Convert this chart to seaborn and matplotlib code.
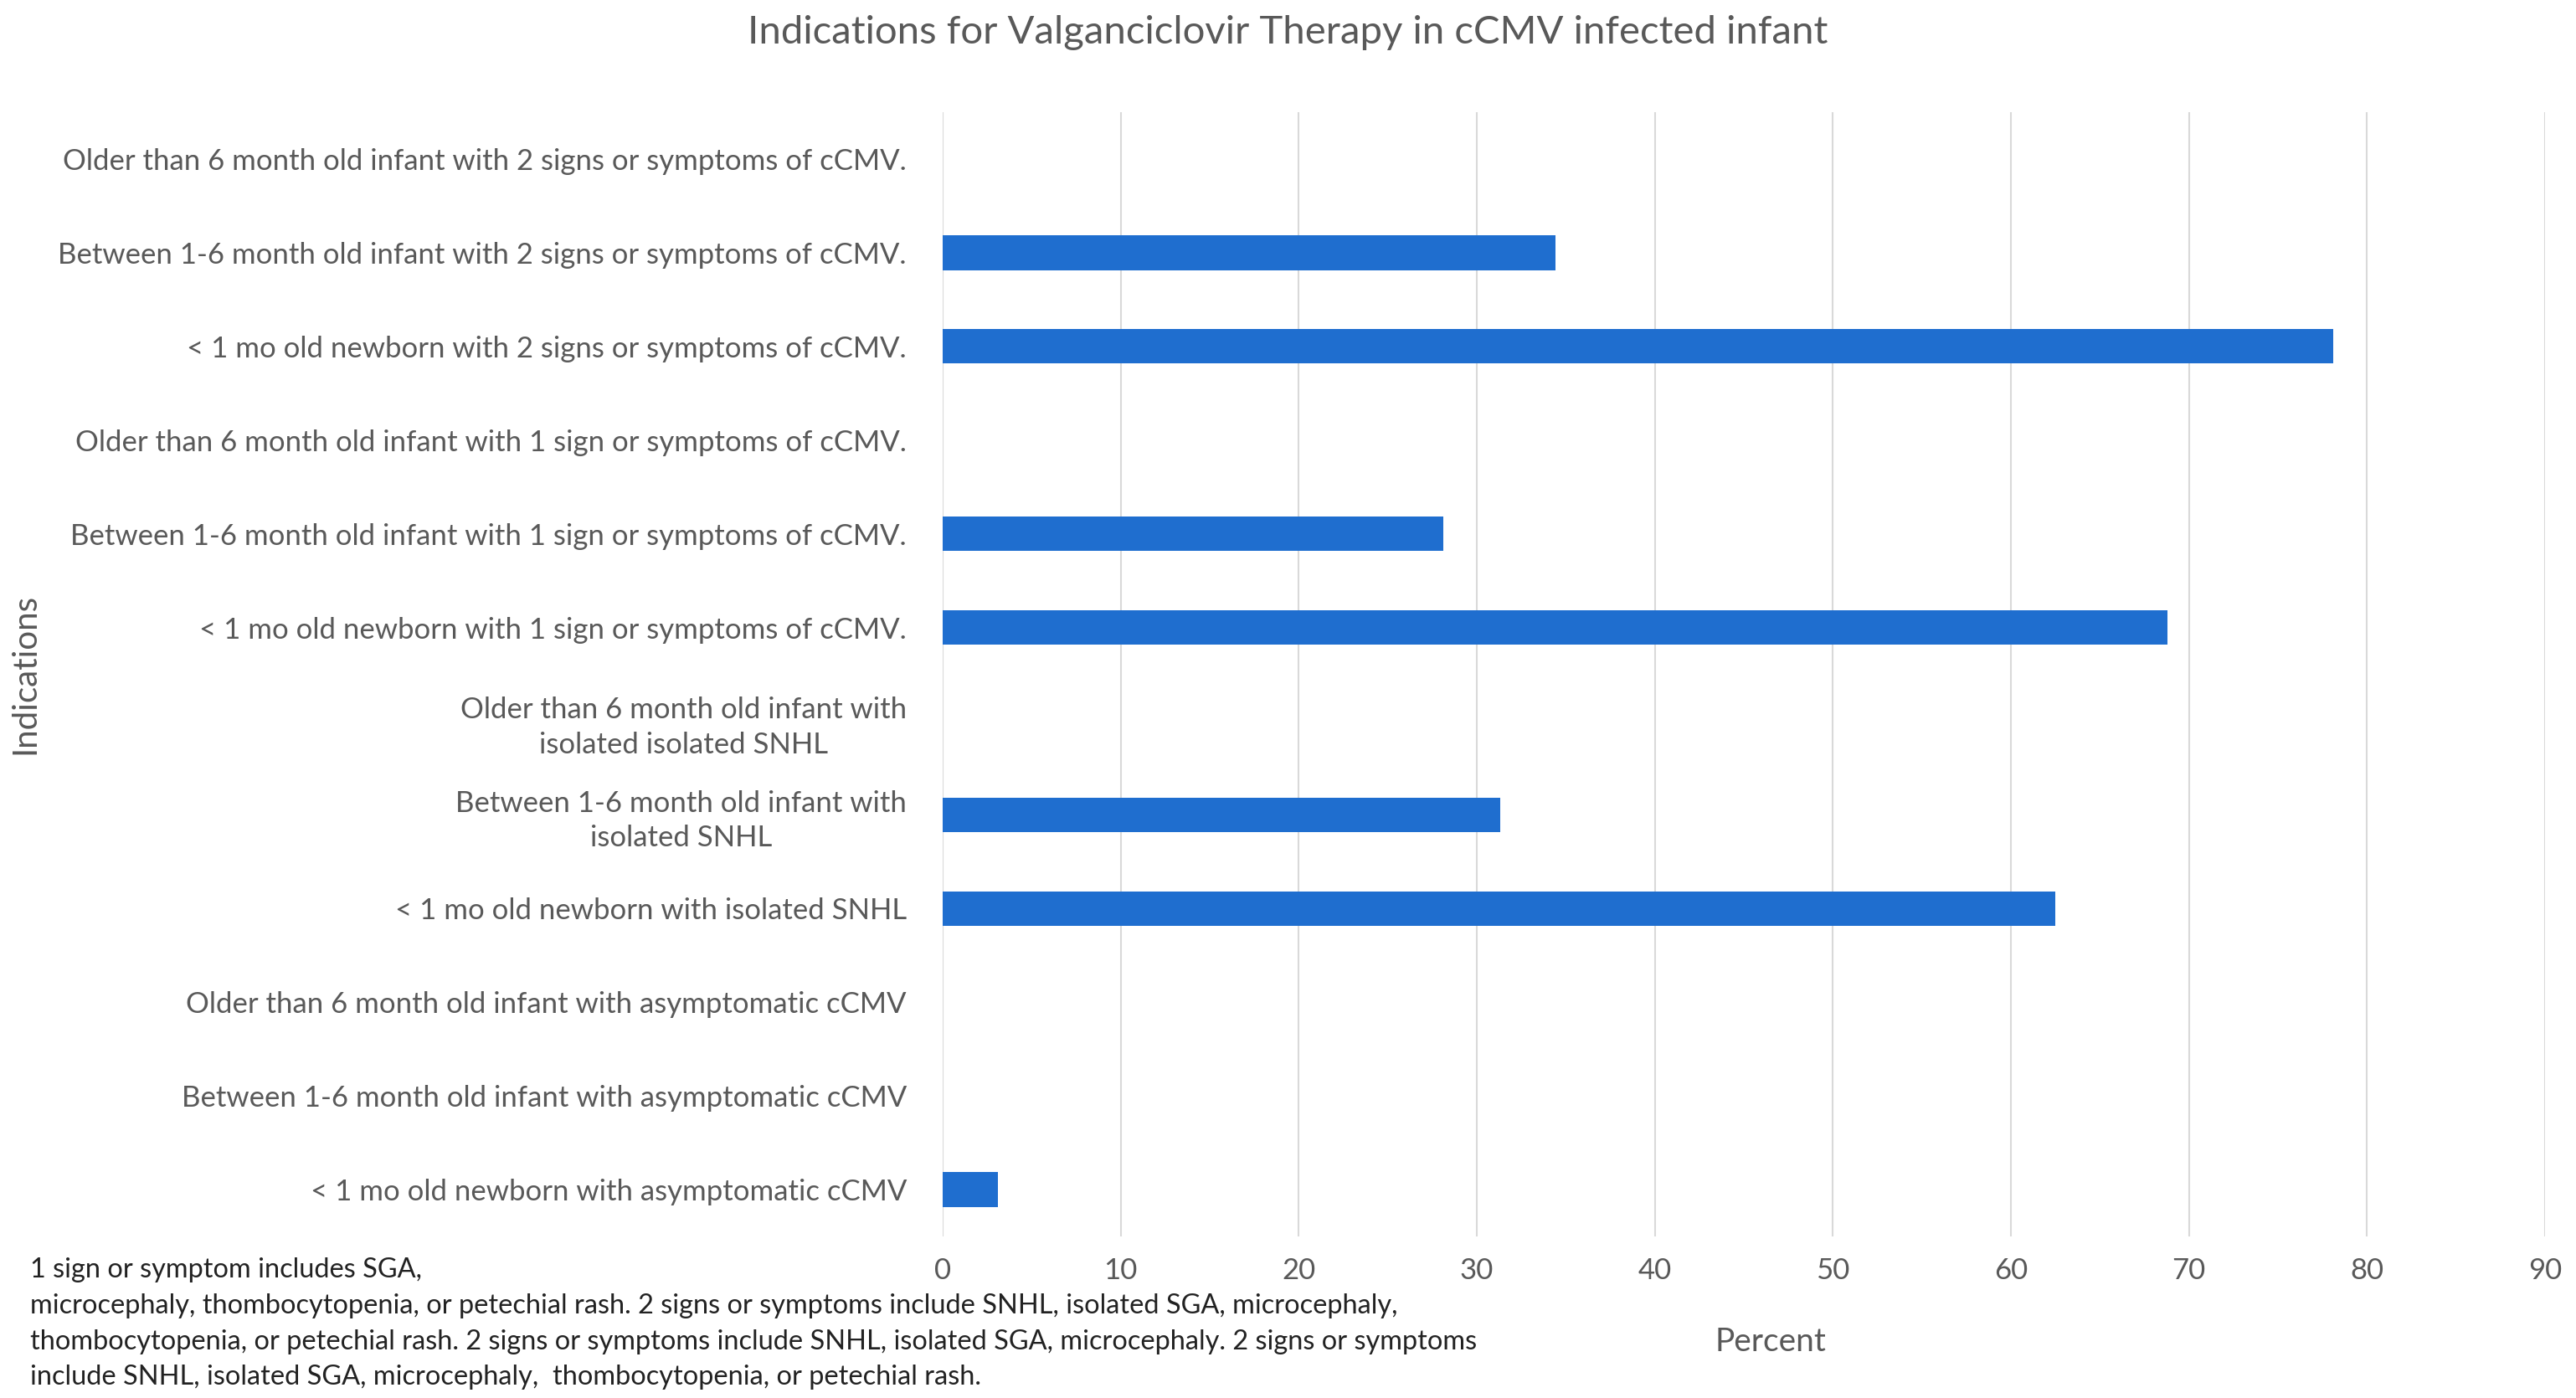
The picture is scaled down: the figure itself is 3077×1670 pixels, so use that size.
import matplotlib
matplotlib.use("Agg")
import matplotlib.pyplot as plt
import seaborn as sns
import pandas as pd

indications = [
    "Older than 6 month old infant with 2 signs or symptoms of cCMV.",
    "Between 1-6 month old infant with 2 signs or symptoms of cCMV.",
    "< 1 mo old newborn with 2 signs or symptoms of cCMV.",
    "Older than 6 month old infant with 1 sign or symptoms of cCMV.",
    "Between 1-6 month old infant with 1 sign or symptoms of cCMV.",
    "< 1 mo old newborn with 1 sign or symptoms of cCMV.",
    "Older than 6 month old infant with\nisolated isolated SNHL",
    "Between 1-6 month old infant with\nisolated SNHL",
    "< 1 mo old newborn with isolated SNHL",
    "Older than 6 month old infant with asymptomatic cCMV",
    "Between 1-6 month old infant with asymptomatic cCMV",
    "< 1 mo old newborn with asymptomatic cCMV",
]
percent = [0, 34.4, 78.1, 0, 28.1, 68.8, 0, 31.3, 62.5, 0, 0, 3.1]
x_ticks = [0, 10, 20, 30, 40, 50, 60, 70, 80, 90]

title = "Indications for Valganciclovir Therapy in cCMV infected infant"
footnote_lines = [
    "1 sign or symptom includes SGA,",
    "microcephaly, thombocytopenia, or petechial rash. 2 signs or symptoms include SNHL, isolated SGA, microcephaly,",
    "thombocytopenia, or petechial rash. 2 signs or symptoms include SNHL, isolated SGA, microcephaly. 2 signs or symptoms",
    "include SNHL, isolated SGA, microcephaly,  thombocytopenia, or petechial rash.",
]

df = pd.DataFrame({"Indication": indications, "Percent": percent})

sns.set_theme(style="white")
plt.rcParams["font.family"] = ["Lato", "DejaVu Sans"]
TXT = "#595959"

W, H = 3077, 1670
fig = plt.figure(figsize=(W / 100, H / 100), dpi=100)
ax = fig.add_axes([1126 / W, 1 - 1477 / H, (3040 - 1126) / W, (1477 - 134) / H])

sns.barplot(data=df, y="Indication", x="Percent", orient="h", color="#1f6ecf",
            saturation=1, width=0.37, linewidth=0, ax=ax)

ax.set_xlim(0, 90)
ax.set_ylim(11.5, -0.5)
ax.set_xticks(x_ticks)
ax.set_xticklabels([str(t) for t in x_ticks])
ax.grid(axis="x", color="#d9d9d9", linewidth=1.5)
ax.set_axisbelow(True)
for s in ax.spines.values():
    s.set_visible(False)
ax.tick_params(axis="both", length=0, labelsize=25, labelcolor=TXT)
ax.tick_params(axis="y", pad=31)
ax.tick_params(axis="x", pad=18)
for lab in ax.get_yticklabels():
    lab.set_multialignment("center")
    lab.set_linespacing(1.35)
ax.set_xlabel("")
ax.set_ylabel("")

fig.text(0.5, 1 - 39 / H, title, ha="center", va="center", fontsize=34, color=TXT)
fig.text(2115 / W, 1 - 1603 / H, "Percent", ha="center", va="center", fontsize=28, color=TXT)
fig.text(30 / W, 1 - 805 / H, "Indications", ha="center", va="center", rotation=90,
         fontsize=29, color=TXT)
line_y = [1517, 1560, 1603, 1645]
for yy, line in zip(line_y, footnote_lines):
    fig.text(36 / W, 1 - yy / H, line, ha="left", va="center", fontsize=23.4, color="#222222")

fig.savefig("out.png", dpi=100, facecolor="white")
